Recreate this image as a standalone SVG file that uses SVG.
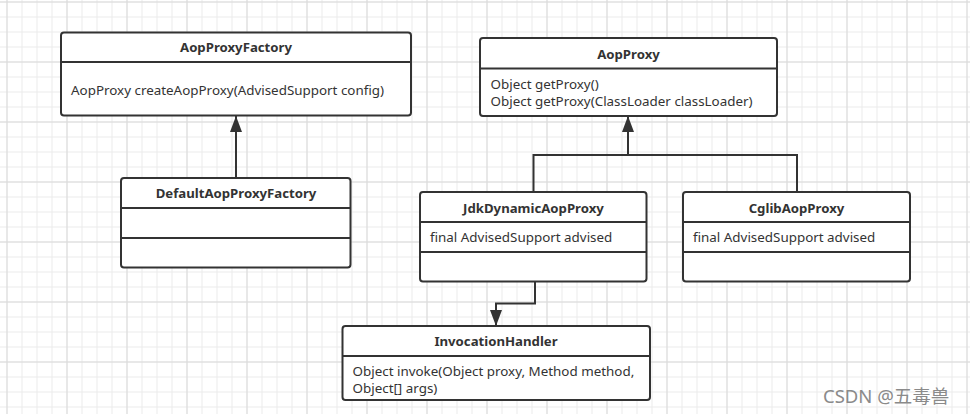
<svg xmlns="http://www.w3.org/2000/svg" width="970" height="414" viewBox="0 0 970 414">
<defs>
<pattern id="gMinor" patternUnits="userSpaceOnUse" x="6.5" y="1.5" width="15" height="15">
<path d="M0.5 0 V15 M0 0.5 H15" fill="none" stroke="#ebebeb" stroke-width="1"/>
</pattern>
<pattern id="gMajor" patternUnits="userSpaceOnUse" x="6.5" y="1.5" width="60" height="60">
<path d="M0.5 0 V60 M0 0.5 H60" fill="none" stroke="#dadada" stroke-width="1"/>
</pattern>
<marker id="arrBig" viewBox="0 0 16 12" refX="16" refY="6" markerWidth="16" markerHeight="12" markerUnits="userSpaceOnUse" orient="auto">
<path d="M0 0 L16 6 L0 12 Z" fill="#333"/>
</marker>
</defs>
<style>
.box{fill:#fff;stroke:#333;stroke-width:2}
.div{stroke:#333;stroke-width:2}
.title{font-family:"Noto Sans","Liberation Sans",sans-serif;font-size:13.2px;font-weight:bold;fill:#333;text-anchor:middle;dominant-baseline:central}
.txt{font-family:"Noto Sans","Liberation Sans",sans-serif;font-size:13.4px;fill:#333;dominant-baseline:central}
.edge{fill:none;stroke:#333;stroke-width:2}
.wm{font-family:"Noto Sans","Noto Sans CJK SC",sans-serif;font-size:18.5px;fill:#8a8a8a}
</style>
<rect width="970" height="414" fill="#fff"/>
<rect width="970" height="414" fill="url(#gMinor)"/>
<rect width="970" height="414" fill="url(#gMajor)"/>

<g id="connectors">
<path class="edge" d="M236 178 V116" marker-end="url(#arrBig)"/>
<path class="edge" d="M628 155 V116" marker-end="url(#arrBig)"/>
<path class="edge" d="M533.5 192 V155 H797 V192"/>
<path class="edge" d="M535 282 V303.5 H496 V326" marker-end="url(#arrBig)"/>
</g>

<g id="AopProxyFactory">
<rect class="box" x="61" y="32.5" width="350" height="83" rx="3"/>
<line class="div" x1="61" y1="62" x2="411" y2="62"/>
<text class="title" x="236" y="47">AopProxyFactory</text>
<text class="txt" x="71" y="89.5">AopProxy createAopProxy(AdvisedSupport config)</text>
</g>

<g id="AopProxy">
<rect class="box" x="480" y="38" width="297" height="78" rx="3"/>
<line class="div" x1="480" y1="68.5" x2="777" y2="68.5"/>
<text class="title" x="628.5" y="54">AopProxy</text>
<text class="txt" x="490.5" y="84">Object getProxy()</text>
<text class="txt" x="490.5" y="100.5">Object getProxy(ClassLoader classLoader)</text>
</g>

<g id="DefaultAopProxyFactory">
<rect class="box" x="121" y="178" width="229.5" height="89.5" rx="3"/>
<line class="div" x1="121" y1="208" x2="350.5" y2="208"/>
<line class="div" x1="121" y1="238" x2="350.5" y2="238"/>
<text class="title" x="236" y="193">DefaultAopProxyFactory</text>
</g>

<g id="JdkDynamicAopProxy">
<rect class="box" x="420" y="192" width="226.5" height="89.5" rx="3"/>
<line class="div" x1="420" y1="222" x2="646.5" y2="222"/>
<line class="div" x1="420" y1="252" x2="646.5" y2="252"/>
<text class="title" x="533.5" y="207.5">JdkDynamicAopProxy</text>
<text class="txt" x="430" y="237">final AdvisedSupport advised</text>
</g>

<g id="CglibAopProxy">
<rect class="box" x="683" y="192" width="227" height="89.5" rx="3"/>
<line class="div" x1="683" y1="222" x2="910" y2="222"/>
<line class="div" x1="683" y1="252" x2="910" y2="252"/>
<text class="title" x="796.5" y="207.5">CglibAopProxy</text>
<text class="txt" x="693" y="237">final AdvisedSupport advised</text>
</g>

<g id="InvocationHandler">
<rect class="box" x="342.5" y="326" width="307.5" height="74" rx="3"/>
<line class="div" x1="342.5" y1="356" x2="650" y2="356"/>
<text class="title" x="496" y="341">InvocationHandler</text>
<text class="txt" x="352.5" y="371">Object invoke(Object proxy, Method method,</text>
<text class="txt" x="352.5" y="387.5">Object[] args)</text>
</g>

<text class="wm" x="823" y="403">CSDN @五毒兽</text>
</svg>
